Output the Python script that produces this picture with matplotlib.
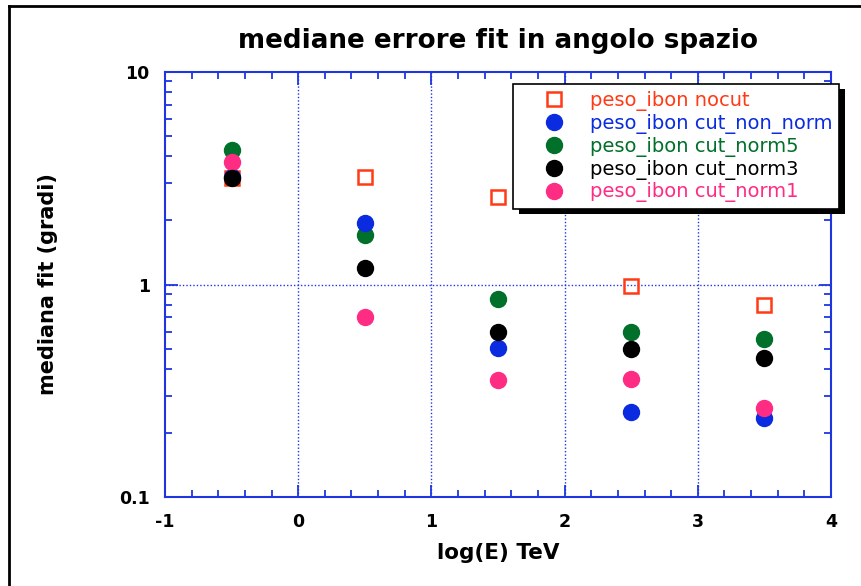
import matplotlib.pyplot as plt
from matplotlib.ticker import MultipleLocator, LogLocator, FixedLocator, NullFormatter
from matplotlib.lines import Line2D
from matplotlib.patches import Rectangle

plt.rcParams['font.family'] = ['DejaVu Sans']
plt.rcParams['axes.unicode_minus'] = False

# data (log10 of energy in TeV)
log_e = [-0.5, 0.5, 1.5, 2.5, 3.5]
nocut = [3.16, 3.19, 2.59, 0.987, 0.80]
cut_non_norm = [3.2, 1.94, 0.501, 0.251, 0.235]
cut_norm5 = [4.29, 1.71, 0.855, 0.60, 0.553]
cut_norm3 = [3.18, 1.20, 0.60, 0.50, 0.45]
cut_norm1 = [3.78, 0.706, 0.356, 0.360, 0.262]

labels = ['peso_ibon nocut', 'peso_ibon cut_non_norm', 'peso_ibon cut_norm5',
          'peso_ibon cut_norm3', 'peso_ibon cut_norm1']
colors = ['#ff3a14', '#0a2be0', '#00702a', '#000000', '#ff2c84']

axis_blue = '#1f35e0'
W, H = 862, 586

fig = plt.figure(figsize=(W / 100, H / 100), dpi=100)
ax = fig.add_axes([165 / W, 1 - 497.3 / H, 666 / W, 425.6 / H])

ax.set_yscale('log')
ax.set_xlim(-1, 4)
ax.set_ylim(0.1, 10)

# square first, then the circles in the stacking order seen in the picture
h0, = ax.plot(log_e, nocut, 's', ms=10, mfc='none', mec=colors[0], mew=1.8, ls='none')
h2, = ax.plot(log_e, cut_norm5, 'o', ms=11.5, color=colors[2], ls='none')
h1, = ax.plot(log_e, cut_non_norm, 'o', ms=11.5, color=colors[1], ls='none')
h4, = ax.plot(log_e, cut_norm1, 'o', ms=11.5, color=colors[4], ls='none')
h3, = ax.plot(log_e, cut_norm3, 'o', ms=11.5, color=colors[3], ls='none')

# dotted grid at x majors and y = 1
for xv in [0, 1, 2, 3]:
    ax.axvline(xv, color=axis_blue, ls=(0, (1, 1.5)), lw=1.0, zorder=0)
ax.axhline(1, color=axis_blue, ls=(0, (1, 1.5)), lw=1.0, zorder=0)

for s in ax.spines.values():
    s.set_color(axis_blue)
    s.set_linewidth(1.5)

ax.xaxis.set_major_locator(MultipleLocator(1))
ax.xaxis.set_minor_locator(MultipleLocator(0.2))
ax.yaxis.set_major_locator(FixedLocator([0.1, 1, 10]))
ax.yaxis.set_minor_locator(LogLocator(base=10, subs=range(2, 10)))
ax.yaxis.set_minor_formatter(NullFormatter())
ax.set_yticklabels(['0.1', '1', '10'])

ax.tick_params(which='both', direction='in', top=True, right=True, color=axis_blue,
               width=1.3, labelsize=12.5)
ax.tick_params(which='major', length=9, pad=11)
ax.tick_params(which='minor', length=5)
for lab in ax.get_xticklabels() + ax.get_yticklabels():
    lab.set_fontweight('bold')

ax.set_title('mediane errore fit in angolo spazio', fontsize=18.8, fontweight='bold', pad=17)
ax.set_xlabel('log(E) TeV', fontsize=15.5, fontweight='bold', labelpad=9)
ax.set_ylabel('mediana fit (gradi)', fontsize=15, fontweight='bold', labelpad=44)

leg = fig.legend([h0, h1, h2, h3, h4], labels, loc='upper left',
                 bbox_to_anchor=(512.7 / W, 1 - 84 / H), bbox_transform=fig.transFigure,
                 fontsize=14, frameon=True, fancybox=False,
                 borderpad=0.35, labelspacing=0.15, handletextpad=0.1, borderaxespad=0,
                 handlelength=3.5)
leg.get_frame().set_edgecolor('black')
leg.get_frame().set_linewidth(1.2)
leg.get_frame().set_alpha(1)
for t, c in zip(leg.get_texts(), colors):
    t.set_color(c)

# heavy drop shadow under the legend box
fig.canvas.draw()
bb = leg.get_window_extent()
fig.add_artist(Rectangle(((bb.x0 + 6) / W, (bb.y0 - 5) / H), bb.width / W, bb.height / H,
                         transform=fig.transFigure, facecolor='black', edgecolor='none',
                         zorder=4.5))

# figure frame (only top and left edges visible)
fig.add_artist(Line2D([9 / W, 9 / W], [0, 1 - 6 / H], transform=fig.transFigure,
                      color='black', lw=2))
fig.add_artist(Line2D([9 / W, 1], [1 - 6 / H, 1 - 6 / H], transform=fig.transFigure,
                      color='black', lw=2))

fig.savefig('out.png', dpi=100)
